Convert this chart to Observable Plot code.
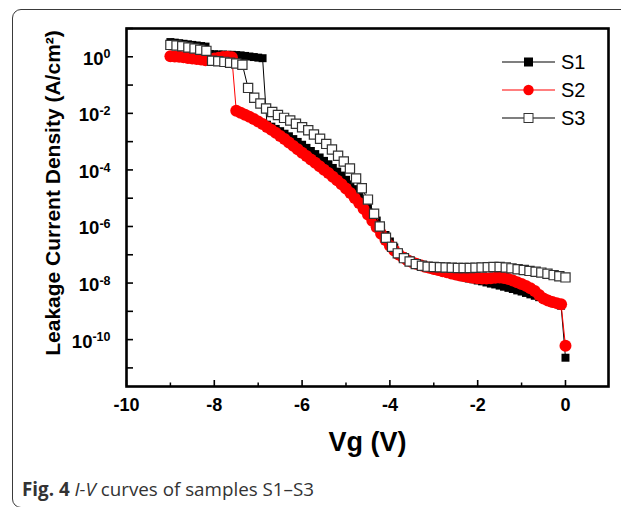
<!DOCTYPE html>
<html><head><meta charset="utf-8">
<script src="https://cdn.jsdelivr.net/npm/d3@7"></script>
<script src="https://cdn.jsdelivr.net/npm/@observablehq/plot@0.6"></script>
<style>
body{margin:0;background:#fff;}
#wrap{position:relative;width:621px;height:507px;overflow:hidden;font-family:"Liberation Sans",Arial,sans-serif;}
#card{position:absolute;left:12px;top:9px;width:720px;height:499px;border:1.5px solid #3a3a3a;border-radius:9px;box-sizing:border-box;}
#chart{position:absolute;left:0;top:0;}
#legend{position:absolute;left:0;top:0;}
#caption{position:absolute;left:22px;top:476px;font-family:"Open Sans",sans-serif;font-size:18.8px;color:#333;white-space:nowrap;}
</style></head>
<body><div id="wrap"><div id="card"></div><div id="chart"></div><div id="legend"></div>
<div id="caption"><b>Fig. 4</b> <i>I-V</i> curves of samples S1–S3</div></div>
<script>
// ---- data (log10 of leakage current density, A/cm^2) ----
const seriesNames = ["S1", "S2", "S3"];
const vgS12 = [-9.0,-8.9,-8.8,-8.7,-8.6,-8.5,-8.4,-8.3,-8.2,-8.1,-8.0,-7.9,-7.8,-7.7,-7.6,-7.5,-7.4,-7.3,-7.2,-7.1,-7.0,-6.9,-6.8,-6.7,-6.6,-6.5,-6.4,-6.3,-6.2,-6.1,-6.0,-5.9,-5.8,-5.7,-5.6,-5.5,-5.4,-5.3,-5.2,-5.1,-5.0,-4.9,-4.8,-4.7,-4.6,-4.5,-4.4,-4.3,-4.2,-4.1,-4.0,-3.9,-3.8,-3.7,-3.6,-3.5,-3.4,-3.3,-3.2,-3.1,-3.0,-2.9,-2.8,-2.7,-2.6,-2.5,-2.4,-2.3,-2.2,-2.1,-2.0,-1.9,-1.8,-1.7,-1.6,-1.5,-1.4,-1.3,-1.2,-1.1,-1.0,-0.9,-0.8,-0.7,-0.6,-0.5,-0.4,-0.3,-0.2,-0.1,0.0];
const s1Log = [0.52,0.50,0.48,0.46,0.44,0.42,0.40,0.38,0.36,0.10,0.09,0.08,0.08,0.07,0.07,0.06,0.05,0.03,0.01,-0.01,-0.03,-0.05,-2.40,-2.47,-2.55,-2.63,-2.72,-2.81,-2.91,-3.01,-3.11,-3.22,-3.33,-3.44,-3.56,-3.68,-3.80,-3.93,-4.06,-4.20,-4.35,-4.51,-4.68,-4.87,-5.07,-5.30,-5.54,-5.79,-6.04,-6.30,-6.53,-6.74,-6.92,-7.06,-7.17,-7.25,-7.32,-7.38,-7.43,-7.48,-7.52,-7.56,-7.60,-7.64,-7.68,-7.72,-7.76,-7.80,-7.84,-7.87,-7.91,-7.94,-7.98,-8.02,-8.05,-8.09,-8.13,-8.17,-8.21,-8.26,-8.30,-8.35,-8.40,-8.45,-8.50,-8.56,-8.62,-8.68,-8.74,-8.80,-10.64];
const s2Log = [0.02,0.01,0.00,-0.02,-0.04,-0.06,-0.08,-0.10,-0.12,-0.10,-0.06,-0.03,-0.01,0.00,-0.02,-1.91,-1.98,-2.05,-2.12,-2.20,-2.29,-2.38,-2.48,-2.58,-2.69,-2.80,-2.91,-3.03,-3.15,-3.27,-3.39,-3.51,-3.63,-3.75,-3.87,-3.99,-4.11,-4.24,-4.37,-4.51,-4.66,-4.82,-4.99,-5.17,-5.37,-5.58,-5.80,-6.03,-6.26,-6.48,-6.68,-6.85,-6.99,-7.10,-7.19,-7.26,-7.32,-7.37,-7.42,-7.46,-7.50,-7.54,-7.58,-7.62,-7.66,-7.70,-7.73,-7.76,-7.79,-7.81,-7.83,-7.84,-7.84,-7.83,-7.81,-7.80,-7.82,-7.86,-7.91,-7.97,-8.03,-8.10,-8.18,-8.28,-8.42,-8.55,-8.62,-8.67,-8.71,-8.75,-10.22];
const vgS3 = [-9.00,-8.86,-8.73,-8.59,-8.45,-8.32,-8.18,-8.05,-7.91,-7.77,-7.64,-7.50,-7.36,-7.23,-7.09,-6.95,-6.82,-6.68,-6.55,-6.41,-6.27,-6.14,-6.00,-5.86,-5.73,-5.59,-5.45,-5.32,-5.18,-5.05,-4.91,-4.77,-4.64,-4.50,-4.36,-4.23,-4.09,-3.95,-3.82,-3.68,-3.55,-3.41,-3.27,-3.14,-3.00,-2.86,-2.73,-2.59,-2.45,-2.32,-2.18,-2.05,-1.91,-1.77,-1.64,-1.50,-1.36,-1.23,-1.09,-0.95,-0.82,-0.68,-0.55,-0.41,-0.27,-0.14,0.00];
const s3Log = [0.42,0.40,0.37,0.33,0.29,0.25,0.21,-0.14,-0.16,-0.18,-0.21,-0.24,-0.28,-1.10,-1.45,-1.65,-1.83,-1.95,-2.06,-2.16,-2.25,-2.37,-2.49,-2.60,-2.75,-2.90,-3.08,-3.28,-3.50,-3.70,-3.95,-4.30,-4.65,-5.05,-5.55,-6.00,-6.40,-6.72,-6.95,-7.12,-7.24,-7.33,-7.39,-7.42,-7.43,-7.44,-7.45,-7.46,-7.47,-7.47,-7.47,-7.46,-7.45,-7.44,-7.43,-7.43,-7.45,-7.48,-7.51,-7.54,-7.57,-7.60,-7.63,-7.67,-7.72,-7.76,-7.80];
const xTickLabels = [-10, -8, -6, -4, -2, 0];
const xMinorTicks = [-9, -7, -5, -3, -1];
const yTickLabels = [1e0, 1e-2, 1e-4, 1e-6, 1e-8, 1e-10];
const xTitle = "Vg (V)";
const yTitle = "Leakage Current Density (A/cm²)";

const toRows = (vs, ls) => vs.map((v, i) => ({v, j: Math.pow(10, ls[i])}));
const s1 = toRows(vgS12, s1Log), s2 = toRows(vgS12, s2Log), s3 = toRows(vgS3, s3Log);

const W = 621, H = 470, mL = 126, mR = 13, mT = 28, mB = 84;
const fw = W - mL - mR, fh = H - mT - mB;
const yDomain = [2.2e-12, 10];
const yMajorAll = d3.range(-11, 2).map(e => Math.pow(10, e));
const yMinorAll = d3.scaleLog().domain(yDomain).ticks().filter(t => !yMajorAll.some(m => Math.abs(m - t) / m < 1e-6));

const svg = Plot.plot({
  width: W, height: H,
  marginLeft: mL, marginRight: mR, marginTop: mT, marginBottom: mB,
  style: {fontFamily: '"Liberation Sans", Arial, sans-serif', background: "transparent", overflow: "visible", color: "#000"},
  x: {domain: [-10, 0.98]},
  y: {type: "log", domain: yDomain},
  marks: [
    Plot.tickX(xMinorTicks, {x: d => d, insetTop: fh - 3.5, strokeWidth: 1.5, stroke: "#000"}),
    Plot.tickX(xTickLabels, {x: d => d, insetTop: fh - 6, strokeWidth: 1.6, stroke: "#000"}),
    Plot.tickY(yMinorAll, {y: d => d, insetRight: fw - 3.5, strokeWidth: 1.2, stroke: "#000"}),
    Plot.tickY(yMajorAll, {y: d => d, insetRight: fw - 7, strokeWidth: 1.6, stroke: "#000"}),
    Plot.axisX({ticks: xTickLabels, tickSize: 0, tickPadding: 12, tickFormat: d => String(d), fontSize: 18, fontWeight: "bold", label: null}),
    Plot.axisY({ticks: yTickLabels, tickSize: 0, tickPadding: 16, dy: 2, tickFormat: d => "10^" + Math.round(Math.log10(d)), fontSize: 18.5, fontWeight: "bold", label: null}),
    Plot.text([xTitle], {frameAnchor: "bottom", dy: 64, fontSize: 27, fontWeight: "bold", fill: "#000"}),
    Plot.line(s1, {x: "v", y: "j", stroke: "#000", strokeWidth: 1}),
    Plot.dot(s1, {x: "v", y: "j", symbol: "square", r: 4.5, fill: "#000", stroke: "none"}),
    Plot.line(s2, {x: "v", y: "j", stroke: "#ff0000", strokeWidth: 1}),
    Plot.dot(s2, {x: "v", y: "j", symbol: "circle", r: 6, fill: "#ff0000", stroke: "none"}),
    Plot.line(s3, {x: "v", y: "j", stroke: "#000", strokeWidth: 1}),
    Plot.dot(s3, {x: "v", y: "j", symbol: "square", r: 5.2, fill: "#fff", stroke: "#333", strokeWidth: 1.2}),
    Plot.frame({stroke: "#000", strokeWidth: 2.6})
  ]
});

// superscript exponents on y tick labels
const ns = "http://www.w3.org/2000/svg";
svg.querySelectorAll('g[aria-label="y-axis tick label"] text').forEach(t => {
  const parts = t.textContent.split("^");
  if (parts.length !== 2) return;
  t.textContent = "10";
  const ts = document.createElementNS(ns, "tspan");
  ts.setAttribute("dy", "-0.5em");
  ts.setAttribute("font-size", "12.5");
  ts.textContent = parts[1];
  t.appendChild(ts);
});
document.getElementById("chart").appendChild(svg);

// overlay: y title + legend
const leg = d3.select("#legend").append("svg").attr("width", W).attr("height", 470);
leg.append("text").attr("transform", "translate(60,193) rotate(-90)").attr("text-anchor", "middle")
  .attr("font-size", 21).attr("font-weight", "bold").attr("font-family", '"Liberation Sans", Arial, sans-serif')
  .text(yTitle);
const legRows = [
  {name: seriesNames[0], y: 62, color: "#000", sym: "sq", fill: "#000"},
  {name: seriesNames[1], y: 90, color: "#ff0000", sym: "ci", fill: "#ff0000"},
  {name: seriesNames[2], y: 118, color: "#000", sym: "sq", fill: "#fff"}
];
legRows.forEach(r => {
  leg.append("line").attr("x1", 502).attr("x2", 555).attr("y1", r.y).attr("y2", r.y).attr("stroke", r.color).attr("stroke-width", 1.2);
  if (r.sym === "sq") leg.append("rect").attr("x", 524).attr("y", r.y - 4.5).attr("width", 9).attr("height", 9)
      .attr("fill", r.fill).attr("stroke", r.fill === "#fff" ? "#333" : "none").attr("stroke-width", 1);
  else leg.append("circle").attr("cx", 528.5).attr("cy", r.y).attr("r", 5.2).attr("fill", r.fill);
  leg.append("text").attr("x", 561).attr("y", r.y).attr("dy", "0.36em").attr("font-size", 20)
    .attr("font-family", '"Liberation Sans", Arial, sans-serif').text(r.name);
});
</script></body></html>
